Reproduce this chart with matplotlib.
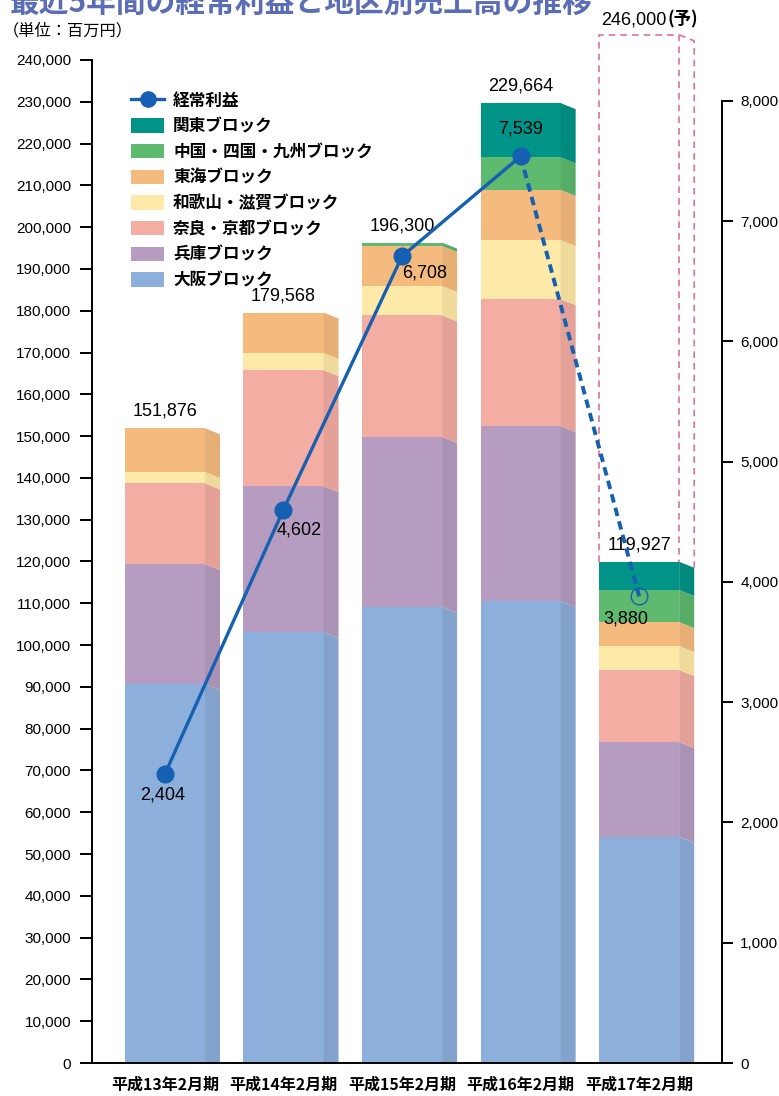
import numpy as np
import matplotlib
matplotlib.use("Agg")
import matplotlib.pyplot as plt
from matplotlib.patches import Polygon, Patch
from matplotlib.lines import Line2D

plt.rcParams['font.family'] = ['Noto Sans CJK JP', 'DejaVu Sans']
NUM_FONT = ['Liberation Sans', 'DejaVu Sans']

# ---- data (百万円) ----
periods = ["平成13年2月期", "平成14年2月期", "平成15年2月期", "平成16年2月期", "平成17年2月期"]
osaka = [90700, 103100, 109100, 110500, 54100]
hyogo = [28700, 34900, 40700, 41900, 22700]
nara_kyoto = [19300, 27800, 29100, 30400, 17200]
wakayama_shiga = [2700, 4100, 7000, 14100, 5800]
tokai = [10476, 9668, 9600, 12000, 5700]
chugoku_kyushu = [0, 0, 800, 7800, 7700]
kanto = [0, 0, 0, 12964, 6727]
totals = [151876, 179568, 196300, 229664, 119927]
forecast_total = 246000
ordinary_profit = [2404, 4602, 6708, 7539, 3880]

segment_names = ["大阪ブロック", "兵庫ブロック", "奈良・京都ブロック", "和歌山・滋賀ブロック",
                 "東海ブロック", "中国・四国・九州ブロック", "関東ブロック"]
segments = [osaka, hyogo, nara_kyoto, wakayama_shiga, tokai, chugoku_kyushu, kanto]
front_colors = ["#8DAFDC", "#B69CC0", "#F4ADA3", "#FDE9A8", "#F5BB7E", "#5EBA6F", "#009488"]
side_colors = ["#84A3CC", "#AA92B4", "#E3A198", "#EEDB9C", "#E6AF76", "#57AC66", "#008A7E"]
LINE_COLOR = "#1560B2"
FORECAST_COLOR = "#E0709A"

# ---- layout ----
fig = plt.figure(figsize=(7.79, 10.96), dpi=100)
ax = fig.add_axes([0.118, 0.0301, 0.809, 0.9152])
ax2 = ax.twinx()

x = np.arange(len(periods))
w = 0.675      # front face width
d = 0.127      # side face depth
s = 1435       # side slant (data units)

bottoms = np.zeros(len(periods))
for vals, fc, sc in zip(segments, front_colors, side_colors):
    vals = np.array(vals, dtype=float)
    ax.bar(x, vals, width=w, bottom=bottoms, color=fc, edgecolor='none', zorder=2)
    for xi, b, h in zip(x, bottoms, vals):
        if h <= 0:
            continue
        xr = xi + w / 2
        t = b + h
        ax.add_patch(Polygon([(xr, b), (xr + d, b - s), (xr + d, t - s), (xr, t)],
                             closed=True, facecolor=sc, edgecolor='none', zorder=2))
    bottoms += vals

# forecast dashed outline
xf = x[-1]
xl, xr = xf - w / 2, xf + w / 2
ax.plot([xl, xl, xr, xr], [totals[-1], forecast_total, forecast_total, totals[-1]],
        ls=(0, (4, 3)), color=FORECAST_COLOR, lw=1.2, zorder=1, clip_on=False)
ax.plot([xr, xr + d, xr + d], [forecast_total, forecast_total - s, totals[-1] - s],
        ls=(0, (4, 3)), color=FORECAST_COLOR, lw=1.2, zorder=1, clip_on=False)

# total labels
for xi, tot in zip(x, totals):
    ax.annotate(f"{tot:,}", (xi, tot), xytext=(0, 6), textcoords='offset points',
                ha='center', va='bottom', fontsize=13, family=NUM_FONT, zorder=5)
ax.annotate(f"{forecast_total:,}", (xf + 0.23, forecast_total), xytext=(0, 11),
            textcoords='offset points', ha='right', va='center', fontsize=13,
            family=NUM_FONT, annotation_clip=False)
ax.annotate("(予)", (xf + 0.23, forecast_total), xytext=(1, 11), textcoords='offset points',
            ha='left', va='center', fontsize=12.5, fontweight='bold', annotation_clip=False)

# ordinary profit line
ax2.plot(x[:4], ordinary_profit[:4], color=LINE_COLOR, lw=2.4, marker='o', ms=12,
         mfc=LINE_COLOR, mec=LINE_COLOR, zorder=4)
ax2.plot(x[3:], ordinary_profit[3:], color=LINE_COLOR, lw=2.8, ls=(0, (2.2, 1.4)), zorder=4)
ax2.plot(x[4:], ordinary_profit[4:], ls='none', marker='o', ms=12, mfc='none',
         mec=LINE_COLOR, mew=1.0, zorder=4)

profit_offsets = [(-1.5, -15), (11.5, -15), (16.5, -12), (0, 19.5), (-9.5, -16)]
for xi, v, off in zip(x, ordinary_profit, profit_offsets):
    ax2.annotate(f"{v:,}", (xi, v), xytext=off, textcoords='offset points',
                 ha='center', va='center', fontsize=13, family=NUM_FONT, zorder=6)

# axes
ax.set_xlim(-0.616, 4.70)
ax.set_ylim(0, 240000)
ax2.set_ylim(0, 8340)

ax.set_yticks(np.arange(0, 240001, 10000))
ax.set_yticklabels([f"{v:,}" for v in range(0, 240001, 10000)], family=NUM_FONT, fontsize=11)
ax.tick_params(axis='y', direction='out', length=9, width=1.4, pad=6)

ax2.set_yticks(np.arange(0, 8001, 1000))
ax2.set_yticklabels([f"{v:,}" for v in range(0, 8001, 1000)], family=NUM_FONT, fontsize=11)
ax2.tick_params(axis='y', direction='out', length=8, width=1.4, pad=5)

ax.set_xticks(x)
ax.set_xticklabels(periods, fontsize=11.5, fontweight='bold')
ax.tick_params(axis='x', length=0, pad=10)

for a in (ax, ax2):
    a.spines['top'].set_visible(False)
ax.spines['right'].set_visible(False)
ax2.spines['left'].set_visible(False)
ax2.spines['bottom'].set_visible(False)
ax.spines['left'].set_linewidth(1.4)
ax.spines['bottom'].set_linewidth(1.4)
ax2.spines['right'].set_linewidth(1.4)
ax2.spines['right'].set_bounds(0, 8000)

# legend
handles = [Line2D([0], [0], color=LINE_COLOR, lw=2.4, marker='o', ms=11)]
labels = ["経常利益"]
for name, fc in reversed(list(zip(segment_names, front_colors))):
    handles.append(Patch(facecolor=fc, edgecolor='none'))
    labels.append(name)
leg = ax2.legend(handles, labels, loc='upper left', bbox_to_anchor=(0.052, 0.975),
                 frameon=False, handlelength=1.95, handleheight=0.95, handletextpad=0.55,
                 labelspacing=0.46, borderaxespad=0, prop={'weight': 'bold', 'size': 12})

# title & unit
fig.text(0.012, 0.997, "最近5年間の経常利益と地区別売上高の推移", fontsize=21.4,
         fontweight='bold', color="#5B6DB5", ha='left', va='center')
fig.text(0.004, 0.972, "（単位：百万円）", fontsize=11.7, ha='left', va='center')

fig.savefig("out.png", dpi=100)
